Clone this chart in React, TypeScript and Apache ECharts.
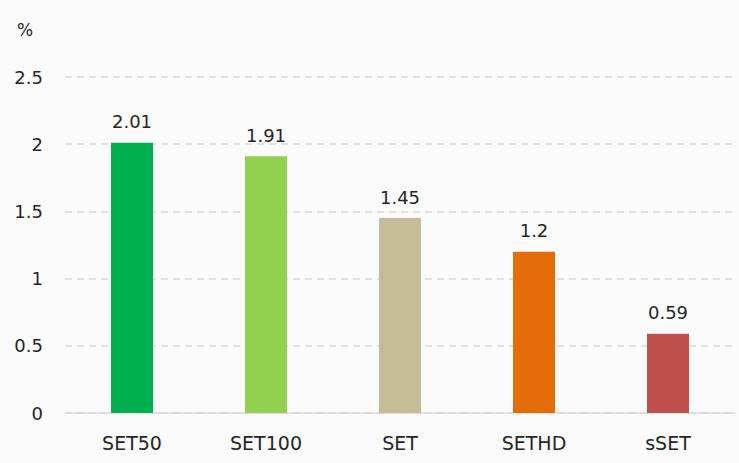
import React, { useEffect, useRef } from "react";
import * as echarts from "echarts";

const categories = ["SET50", "SET100", "SET", "SETHD", "sSET"];
const values = [2.01, 1.91, 1.45, 1.2, 0.59];
const barColors = ["#00B050", "#92D050", "#C4BD97", "#E46C0A", "#C0504D"];
const yTicks = [0, 0.5, 1, 1.5, 2, 2.5];
const unitLabel = "%";

export default function App() {
  const ref = useRef<HTMLDivElement>(null);
  useEffect(() => {
    if (!ref.current) return;
    const chart = echarts.init(ref.current, undefined, { renderer: "svg" });
    const font = "'DejaVu Sans', 'Noto Sans', sans-serif";
    chart.setOption({
      animation: false,
      backgroundColor: "#fbfbfb",
      textStyle: { fontFamily: font },
      grid: { left: 65, right: 4, top: 77, bottom: 50, containLabel: false },
      graphic: [
        {
          type: "text",
          left: 17,
          top: 21,
          style: { text: unitLabel, fontSize: 17, fill: "#262626", fontFamily: font },
        },
      ],
      xAxis: {
        type: "category",
        data: categories,
        axisLine: { show: true, lineStyle: { color: "#d9d9d9", width: 1.5 } },
        axisTick: { show: false },
        axisLabel: { color: "#262626", fontSize: 19, margin: 20, fontFamily: font },
      },
      yAxis: {
        type: "value",
        min: yTicks[0],
        max: yTicks[yTicks.length - 1],
        interval: 0.5,
        axisLine: { show: false },
        axisTick: { show: false },
        axisLabel: { color: "#262626", fontSize: 18, margin: 22, fontFamily: font },
        splitLine: {
          show: true,
          lineStyle: { color: "#d9d9d9", type: [7, 5], width: 1.5 },
        },
      },
      series: [
        {
          type: "bar",
          barWidth: 42,
          data: values.map((v, i) => ({ value: v, itemStyle: { color: barColors[i] } })),
          label: {
            show: true,
            position: "top",
            distance: 12,
            color: "#262626",
            fontSize: 18,
            fontFamily: font,
          },
        },
      ],
    });
    return () => chart.dispose();
  }, []);
  return (
    <div
      ref={ref}
      style={{ position: "absolute", left: 0, top: 0, width: 739, height: 463 }}
    />
  );
}
